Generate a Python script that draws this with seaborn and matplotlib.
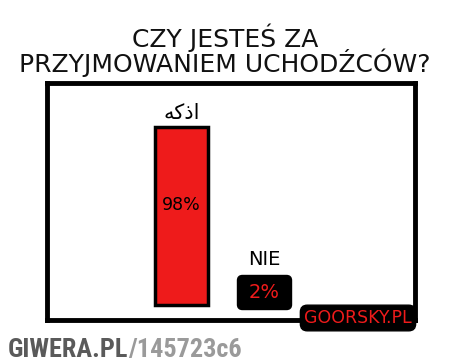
import matplotlib
matplotlib.use("Agg")
import matplotlib.pyplot as plt
import seaborn as sns
import pandas as pd
from matplotlib import font_manager
from matplotlib.offsetbox import AnnotationBbox, TextArea, HPacker, DrawingArea

# ---- data ----
answers = ["\uFEEA\uFEDB\uFEAB\uFE8D", "NIE"]   # "اذكه" in visual order, "NIE"
percent = [98, 2]
pct_labels = ["98%", "2%"]
title_lines = ["CZY JESTEŚ ZA", "PRZYJMOWANIEM UCHODŹCÓW?"]
tag_text = "GOORSKY.PL"
watermark = ["GIWERA.PL", "/145723c6"]

RED = "#ee1b1b"
df = pd.DataFrame({"answer": answers, "percent": percent})

sns.set_theme(style="white")
plt.rcParams["font.family"] = ["DejaVu Sans"]

names = {f.name for f in font_manager.fontManager.ttflist}
narrow = "DejaVu Sans"
for cand in ["Roboto Condensed", "Liberation Sans Narrow", "Open Sans Condensed",
             "DejaVu Sans Condensed", "Noto Sans Condensed"]:
    if cand in names:
        narrow = cand
        break

fig = plt.figure(figsize=(4.5, 3.62), dpi=100)
fig.patch.set_facecolor("white")
ax = fig.add_axes([0.1044, 0.116, 0.8178, 0.655])

sns.barplot(data=df, x="answer", y="percent", hue="answer",
            palette=[RED, "black"], legend=False, width=0.65, saturation=1,
            edgecolor="black", linewidth=2.5, ax=ax)
ax.patches[1].set_linewidth(0)

ax.set_xlim(-1.63, 2.83)
ax.set_ylim(-8.3, 122.2)
ax.set_xticks([]); ax.set_yticks([])
ax.set_xlabel(""); ax.set_ylabel("")
for s in ax.spines.values():
    s.set_visible(True)
    s.set_color("black")
    s.set_linewidth(3.5)

# labels for the big bar
ax.text(0, percent[0] + 7.5, answers[0], ha="center", va="center",
        fontsize=15, color="black", family=["DejaVu Sans"])
ax.text(0, percent[0] * 0.56, pct_labels[0], ha="center", va="center",
        fontsize=12.5, color="black")

# small bar: black label box with red text
ta = TextArea(pct_labels[1], textprops=dict(fontsize=14, color=RED))
packed = HPacker(children=[DrawingArea(3, 1), ta, DrawingArea(3, 1)],
                 pad=0, sep=0, align="center")
ab = AnnotationBbox(packed, (1, percent[1] + 5), xycoords="data",
                    frameon=True, pad=0.55, fontsize=10, zorder=5,
                    bboxprops=dict(boxstyle="round,pad=0.55,rounding_size=0.35",
                                   fc="black", ec="black"))
ax.add_artist(ab)
ax.text(1, percent[1] + 23, answers[1], ha="center", va="center",
        fontsize=14, color="black")

# title
fig.text(0.5, 1 - 72 / 362, "\n".join(title_lines), ha="center", va="baseline",
         multialignment="center", linespacing=0.87, fontsize=18, color="#111111")

# GOORSKY.PL tag
fig.text(358 / 450, 1 - 318 / 362, tag_text, ha="center", va="center",
         fontsize=12.5, color=RED,
         bbox=dict(boxstyle="round,pad=0.22,rounding_size=0.4",
                   fc="black", ec="black"))

# watermark, sized so it spans the same width as in the reference
wm_size = 22
t1 = fig.text(8 / 450, 1 - 357 / 362, watermark[0], ha="left", va="baseline",
              fontsize=wm_size, fontweight="bold", color="#5a5a5a",
              family=[narrow])
t2 = fig.text(0, 1 - 357 / 362, watermark[1], ha="left", va="baseline",
              fontsize=wm_size, fontweight="bold", color="#9a9a9a",
              family=[narrow])
fig.canvas.draw()
r = fig.canvas.get_renderer()
w = t1.get_window_extent(r).width + t2.get_window_extent(r).width
wm_size = wm_size * 234 / w
t1.set_fontsize(wm_size); t2.set_fontsize(wm_size)
fig.canvas.draw()
bb = t1.get_window_extent(r)
t2.set_x(bb.x1 / 450)

fig.savefig("out.png", dpi=100)
